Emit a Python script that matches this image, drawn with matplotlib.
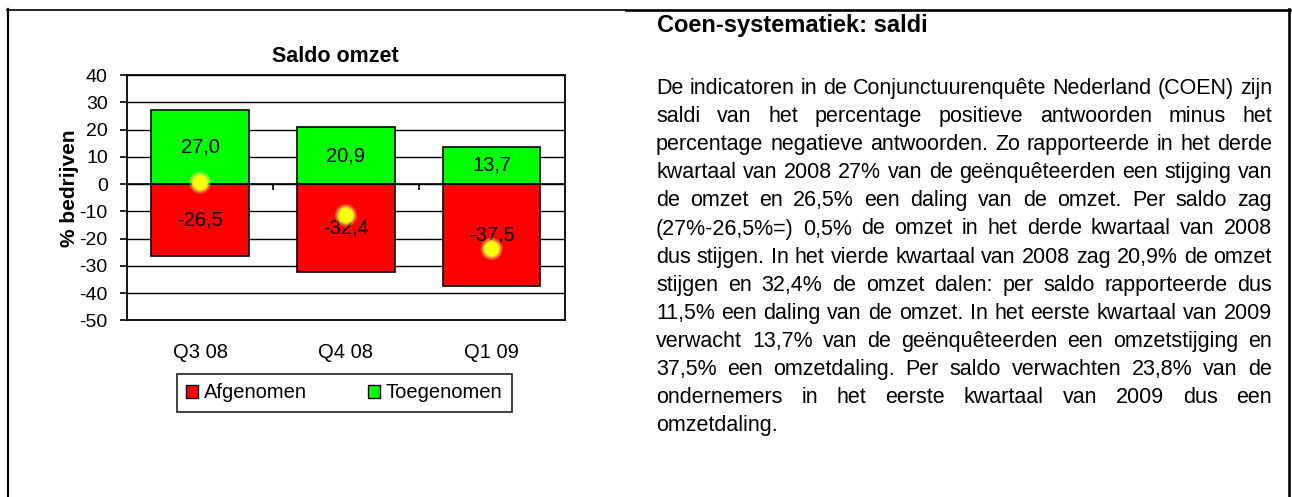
import matplotlib
matplotlib.use("Agg")
import matplotlib.pyplot as plt
from matplotlib.lines import Line2D
from matplotlib.patches import Patch
import numpy as np

# ---------------- data ----------------
categories = ["Q3 08", "Q4 08", "Q1 09"]
toegenomen = [27.0, 20.9, 13.7]
afgenomen = [-26.5, -32.4, -37.5]
saldo = [t + a for t, a in zip(toegenomen, afgenomen)]
yticks = [40, 30, 20, 10, 0, -10, -20, -30, -40, -50]

chart_title = "Saldo omzet"
y_label = "% bedrijven"
legend_labels = ["Afgenomen", "Toegenomen"]

text_title = "Coen-systematiek: saldi"
text_lines = [
    "De indicatoren in de Conjunctuurenquête Nederland (COEN) zijn",
    "saldi van het percentage positieve antwoorden minus het",
    "percentage negatieve antwoorden. Zo rapporteerde in het derde",
    "kwartaal van 2008 27% van de geënquêteerden een stijging van",
    "de omzet en 26,5% een daling van de omzet. Per saldo zag",
    "(27%-26,5%=) 0,5% de omzet in het derde kwartaal van 2008",
    "dus stijgen. In het vierde kwartaal van 2008 zag 20,9% de omzet",
    "stijgen en 32,4% de omzet dalen: per saldo rapporteerde dus",
    "11,5% een daling van de omzet. In het eerste kwartaal van 2009",
    "verwacht 13,7% van de geënquêteerden een omzetstijging en",
    "37,5% een omzetdaling. Per saldo verwachten 23,8% van de",
    "ondernemers in het eerste kwartaal van 2009 dus een",
    "omzetdaling.",
]

# ---------------- figure ----------------
W, H = 1292, 497
DPI = 100
plt.rcParams["font.family"] = ["Liberation Sans", "DejaVu Sans"]
plt.rcParams["axes.unicode_minus"] = False
fig = plt.figure(figsize=(W / DPI, H / DPI), dpi=DPI)
fig.patch.set_facecolor("white")


def fx(px):
    return px / W


def fy(py):
    return 1 - py / H


# plot area
ax_l, ax_r, ax_t, ax_b = 127.3, 564.5, 75.0, 320.3
ax = fig.add_axes([fx(ax_l), fy(ax_b), fx(ax_r - ax_l), (ax_b - ax_t) / H])
x = np.arange(len(categories))
bw = 0.67

ax.set_ylim(-50, 40)
ax.set_xlim(-0.5, len(categories) - 0.5)
ax.set_yticks(yticks)
ax.yaxis.grid(True, color="black", linewidth=1.0)
ax.set_axisbelow(True)

bars_g = ax.bar(x, toegenomen, width=bw, color="#00FF00", edgecolor="black",
                linewidth=1.2, zorder=2)
bars_r = ax.bar(x, afgenomen, width=bw, color="#FF0000", edgecolor="black",
                linewidth=1.2, zorder=2)

fmt = lambda v: f"{v:.1f}".replace(".", ",")
ax.bar_label(bars_g, labels=[fmt(v) for v in toegenomen], label_type="center",
             fontsize=14.5, color="black", zorder=5)
ax.bar_label(bars_r, labels=[fmt(v) for v in afgenomen], label_type="center",
             fontsize=14.5, color="black", zorder=5)

# zero line and category boundary ticks
ax.axhline(0, color="black", linewidth=1.2, zorder=3)
ax.vlines(x[:-1] + 0.5, -2.2, 0, color="black", linewidth=1.2, zorder=3)

# saldo dots (soft yellow)
ax.scatter(x, saldo, s=250, color="#F8F080", alpha=0.35, edgecolors="none", zorder=6)
ax.scatter(x, saldo, s=165, color="#F2EA20", alpha=0.75, edgecolors="none", zorder=6)
ax.scatter(x, saldo, s=110, color="#FFFF10", edgecolors="none", zorder=7)

for s in ax.spines.values():
    s.set_color("black")
    s.set_linewidth(1.3)

ax.set_xticks(x)
ax.set_xticklabels(categories, fontsize=14.5)
ax.tick_params(axis="x", length=0, pad=16)
ax.tick_params(axis="y", length=5, width=1.2, pad=9, labelsize=14, direction="out")

# chart title and y label
fig.text(fx(335), fy(57), chart_title, ha="center", va="center",
         fontsize=15.5, fontweight="bold")
fig.text(fx(69.5), fy(188), y_label, ha="center", va="center",
         fontsize=15, fontweight="bold", rotation=90)

# legend
handles = [Patch(facecolor="#FF0000", edgecolor="black", linewidth=1.0),
           Patch(facecolor="#00FF00", edgecolor="black", linewidth=1.0)]
leg = fig.legend(handles, legend_labels, loc="center",
                 bbox_to_anchor=(fx(344.4), fy(393)), ncol=2, fontsize=14.5,
                 frameon=True, fancybox=False, edgecolor="black",
                 handlelength=0.6, handleheight=0.6, handletextpad=0.3,
                 columnspacing=3.0, borderpad=0.45, borderaxespad=0.0)
leg.get_frame().set_linewidth(1.3)

# ---------------- cell borders ----------------
def hline(x0, x1, y, lw):
    fig.add_artist(Line2D([fx(x0), fx(x1)], [fy(y), fy(y)], color="black",
                          linewidth=lw, transform=fig.transFigure))


def vline(xp, y0, y1, lw):
    fig.add_artist(Line2D([fx(xp), fx(xp)], [fy(y0), fy(y1)], color="black",
                          linewidth=lw, transform=fig.transFigure))


hline(7, 626, 9.7, 1.2)
hline(626, 1290, 10.0, 1.9)
vline(7.8, 9, H, 1.6)
vline(1289.2, 9, H, 1.9)

# ---------------- right text ----------------
fig.text(fx(657), fy(32), text_title, ha="left", va="baseline",
         fontsize=17, fontweight="bold")

renderer = fig.canvas.get_renderer()
body_size = 15.5
left_px, right_px = 656, 1272
base0, lstep = 94.0, 28.1
for i, line in enumerate(text_lines):
    ybase = base0 + i * lstep
    words = line.split(" ")
    last = (i == len(text_lines) - 1)
    if last:
        fig.text(fx(left_px), fy(ybase), line, ha="left", va="baseline",
                 fontsize=body_size)
        continue
    arts = []
    widths = []
    for w in words:
        t = fig.text(0, 0, w, ha="left", va="baseline", fontsize=body_size)
        bb = t.get_window_extent(renderer)
        arts.append(t)
        widths.append(bb.width)
    gap = (right_px - left_px - sum(widths)) / max(len(words) - 1, 1)
    cur = left_px
    for t, wdt in zip(arts, widths):
        t.set_position((fx(cur), fy(ybase)))
        cur += wdt + gap

fig.savefig("out.png", dpi=DPI, facecolor="white")
